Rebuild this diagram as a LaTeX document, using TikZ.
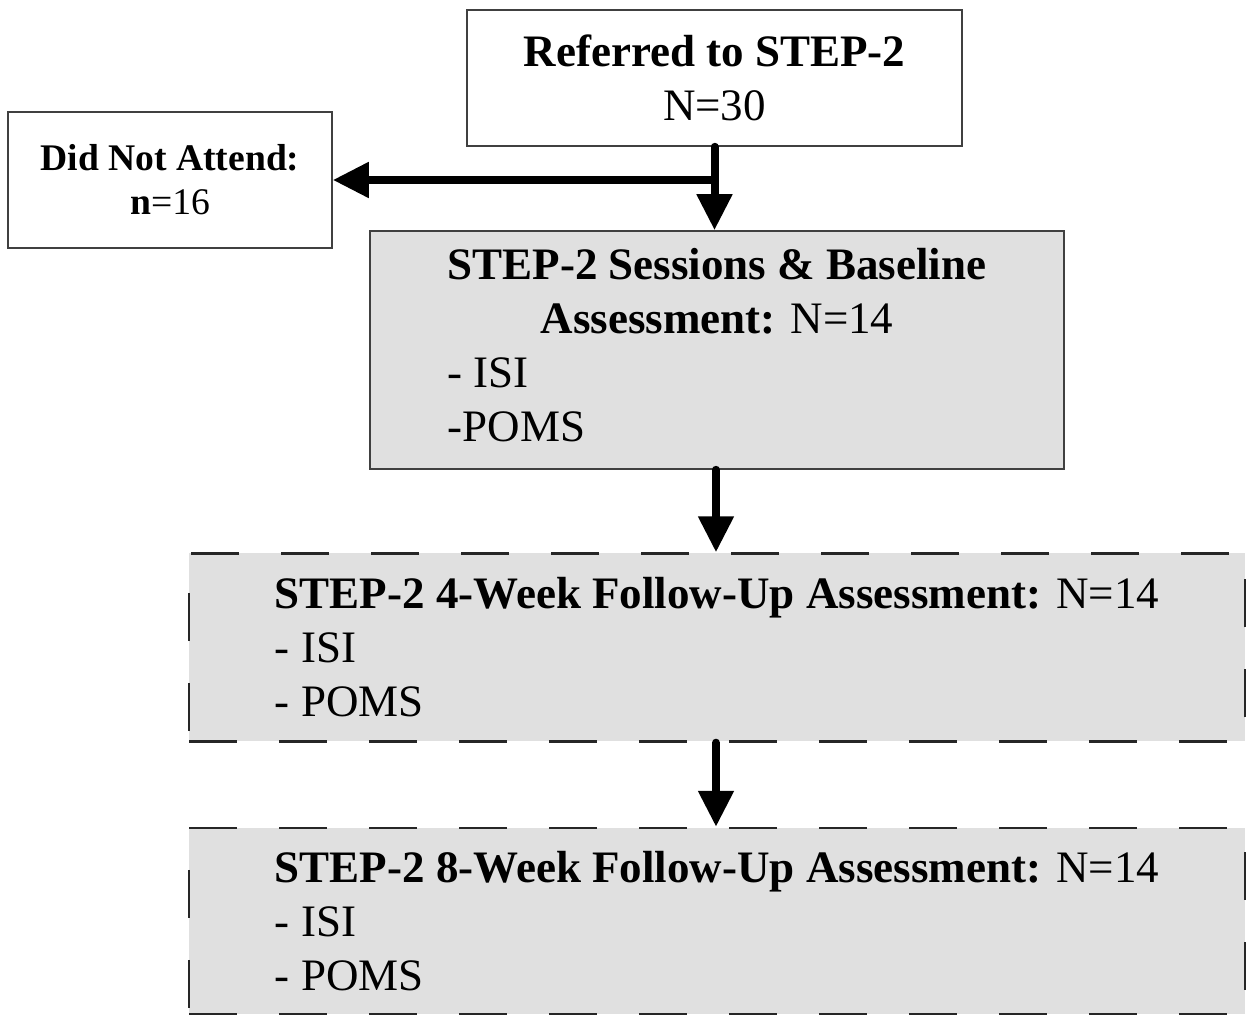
\documentclass[tikz,border=0pt]{standalone}
\usepackage{fontspec}
\setmainfont{Liberation Serif}
\usetikzlibrary{arrows.meta}

\begin{document}
\begin{tikzpicture}[x=0.5pt,y=-0.5pt,
    box/.style={
% The shape:
rectangle, inner sep=0pt,
% The text:
font=\fontsize{22.5}{27}\selectfont,
% The border:
draw=black!75, line width=0.8pt,
},
    graybox/.style={
box,
% The fill:
fill=black!12,
},
    dashbox/.style={
graybox,
% The border:
draw=black!85, line width=1.2pt, dash pattern=on 24pt off 21pt,
align=left,
minimum width=528pt, minimum height=94pt,
},
    flow/.style={
line width=4pt, line cap=round,
-{Triangle[length=18pt,width=17pt]}
},
]
  \useasboundingbox (0,0) rectangle (1255,1015);

  \node[box,align=center,minimum width=247.5pt,minimum height=68pt]   (referred) at (714.5,78)
    {\textbf{Referred to STEP-2}\\N=30};
  \node[box,align=center,minimum width=162pt,minimum height=68pt,
        font=\fontsize{18.8}{22}\selectfont]                          (noattend) at (170,180)
    {\textbf{Did Not Attend:}\\\textbf{n}=16};
  \node[graybox,minimum width=347pt,minimum height=119pt]             (baseline) at (717,350)
    {\begin{tabular}{@{}l@{}}
      \multicolumn{1}{@{}c@{}}{\textbf{STEP-2 Sessions \& Baseline}}\\
      \multicolumn{1}{@{}c@{}}{\textbf{Assessment:} N=14}\\
      - ISI\\
      -POMS
     \end{tabular}};
  \node[dashbox]                                                      (week4) at (717,647.5)
    {\textbf{STEP-2 4-Week Follow-Up Assessment:} N=14\\- ISI\\- POMS};
  \node[dashbox,minimum height=93pt]                                  (week8) at (717,921)
    {\textbf{STEP-2 8-Week Follow-Up Assessment:} N=14\\- ISI\\- POMS};

  \draw[flow] (referred.south) -- (referred.south |- baseline.north);
  \draw[flow] (referred.south |- noattend.east) -- (noattend.east);
  \draw[flow] (baseline.south -| 716,0) -- (week4.north -| 716,0);
  \draw[flow] (week4.south -| 716,0) -- (week8.north -| 716,0);
\end{tikzpicture}
\end{document}
